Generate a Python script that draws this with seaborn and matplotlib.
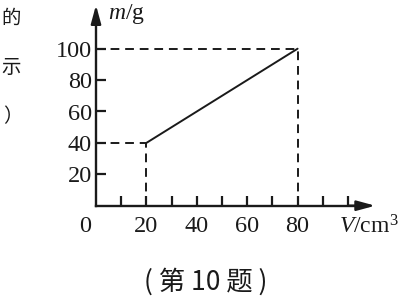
import matplotlib
matplotlib.use("Agg")
import matplotlib.pyplot as plt
import seaborn as sns
import pandas as pd

# data
V_points = [20, 80]
m_points = [40, 100]
x_ticks = [10, 20, 30, 40, 50, 60, 70, 80, 90, 100]
x_tick_labels = ["", "20", "", "40", "", "60", "", "80", "", ""]
y_ticks = [20, 40, 60, 80, 100]
y_tick_labels = ["20", "40", "60", "80", "100"]
x_label = "$V$/cm$^3$"
y_label = "$m$/g"
caption = "( 第 10 题 )"
side_text = ["的", "示", "）"]

sns.set_theme(style="white")
plt.rcParams["font.family"] = ["Liberation Serif", "Noto Sans CJK SC"]
plt.rcParams["mathtext.fontset"] = "custom"
plt.rcParams["mathtext.rm"] = "Liberation Serif"
plt.rcParams["mathtext.it"] = "Liberation Serif:italic"

W, H = 403, 298
fig = plt.figure(figsize=(W / 100, H / 100), dpi=100)
ax = fig.add_axes([0, 0, 1, 1])
ax.patch.set_alpha(0)

# pixel mapping: x0=96px, 2.52 px/unit ; y0=205.7px from top, 1.57 px/unit
x0, sx = 96.0, 2.52
y0, sy = 205.7, 1.57
ax.set_xlim(-x0 / sx, (W - x0) / sx)
ax.set_ylim((y0 - H) / sy, y0 / sy)

ink = "#1a1a1a"
df = pd.DataFrame({"V": V_points, "m": m_points})
sns.lineplot(data=df, x="V", y="m", ax=ax, color=ink, lw=1.4)

# dashed guides
dash = dict(color=ink, lw=1.4, linestyle=(0, (4.5, 3.0)))
for v, m in zip(V_points, m_points):
    ax.plot([0, v], [m, m], **dash)
    ax.plot([v, v], [0, m], **dash)

# axes spines
for s in ["top", "right"]:
    ax.spines[s].set_visible(False)
for s in ["left", "bottom"]:
    ax.spines[s].set_position(("data", 0))
    ax.spines[s].set_color(ink)
    ax.spines[s].set_linewidth(1.7)
ax.spines["bottom"].set_bounds(0, 108)
ax.spines["left"].set_bounds(0, 122)

arrow_kw = dict(arrowstyle="-|>,head_length=1.1,head_width=0.3", color=ink,
                lw=1.7, mutation_scale=10, shrinkA=0, shrinkB=0)
ax.annotate("", xy=(110.8, 0), xytext=(100, 0), arrowprops=arrow_kw)
ax.annotate("", xy=(0, 127.8), xytext=(0, 115), arrowprops=arrow_kw)

ax.set_xticks(x_ticks)
ax.set_xticklabels(x_tick_labels)
ax.set_yticks(y_ticks)
ax.set_yticklabels(y_tick_labels)
ax.tick_params(axis="x", direction="in", length=7.5, width=1.6, color=ink,
               labelsize=17.5, pad=7.5, labelcolor=ink, bottom=True)
ax.tick_params(axis="y", direction="in", length=7.5, width=1.6, color=ink,
               labelsize=17.5, pad=3, labelcolor=ink, left=True)
ax.grid(False)
ax.set_xlabel("")
ax.set_ylabel("")

# origin label and axis labels
ax.text((85 - x0) / sx, (y0 - 226) / sy, "0", fontsize=17.5, color=ink,
        ha="center", va="center")
ax.text((108 - x0) / sx, (y0 - 14) / sy, y_label, fontsize=17, color=ink,
        ha="left", va="center")
ax.text((339 - x0) / sx, (y0 - 227) / sy, x_label, fontsize=17, color=ink,
        ha="left", va="center")

# caption
fig.text(206 / W, 1 - 282 / H, caption, fontsize=19, color=ink,
         ha="center", va="center", family=["Noto Sans CJK SC", "DejaVu Sans"])

# side text fragments at the left edge
fig.text(1 / W, 1 - 18 / H, side_text[0], fontsize=14, color=ink,
         ha="left", va="center", family=["Noto Sans CJK SC"])
fig.text(1 / W, 1 - 67 / H, side_text[1], fontsize=14, color=ink,
         ha="left", va="center", family=["Noto Sans CJK SC"])
fig.text(3 / W, 1 - 117 / H, side_text[2], fontsize=14, color=ink,
         ha="left", va="center", family=["Noto Sans CJK SC"])

fig.savefig("out.png", dpi=100)
